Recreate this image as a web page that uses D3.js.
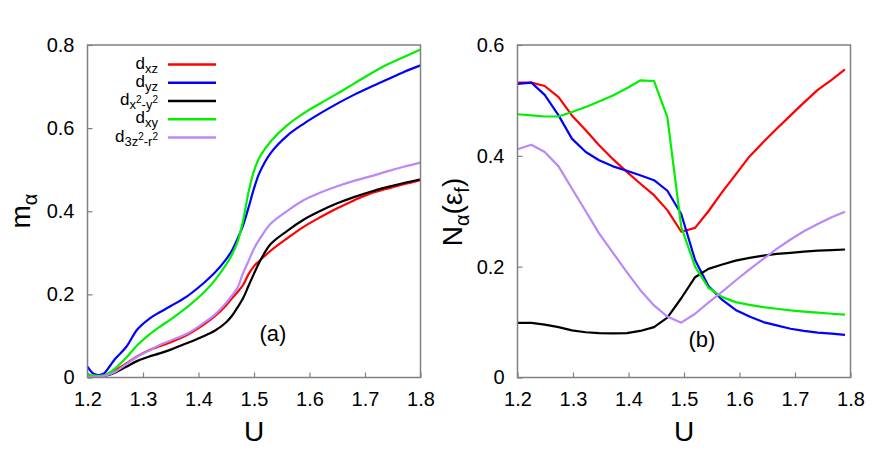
<!DOCTYPE html>
<html><head><meta charset="utf-8">
<script src="https://cdn.jsdelivr.net/npm/d3@7"></script>
<style>body{margin:0;background:#fff}svg{display:block}text{font-family:"Liberation Sans",Arial,sans-serif}</style>
</head><body><svg id="c" width="872" height="467"></svg>
<script>
// ---- Panel (a): m_alpha vs U ----
const uA = [1.2,1.21,1.22,1.23,1.24,1.25,1.27,1.29,1.31,1.33,1.35,1.38,1.41,1.43,1.45,1.46,1.47,1.48,1.49,1.5,1.51,1.53,1.56,1.59,1.62,1.65,1.68,1.71,1.74,1.77,1.8];
const mXZ = [0.005,0.004,0.004,0.005,0.010,0.017,0.034,0.051,0.065,0.075,0.085,0.103,0.128,0.148,0.174,0.190,0.205,0.222,0.248,0.268,0.281,0.305,0.335,0.363,0.386,0.407,0.426,0.443,0.454,0.465,0.475];
const mYZ = [0.026,0.010,0.006,0.010,0.027,0.045,0.074,0.116,0.140,0.157,0.172,0.196,0.228,0.253,0.285,0.305,0.333,0.365,0.408,0.455,0.493,0.540,0.582,0.611,0.636,0.659,0.680,0.699,0.717,0.735,0.751];
const mX2Y2 = [0.003,0.003,0.003,0.004,0.007,0.012,0.026,0.040,0.050,0.058,0.067,0.083,0.100,0.113,0.133,0.148,0.168,0.190,0.220,0.250,0.278,0.321,0.353,0.380,0.401,0.419,0.434,0.447,0.458,0.468,0.477];
const mXY = [0.008,0.005,0.004,0.005,0.012,0.022,0.048,0.078,0.102,0.122,0.140,0.170,0.205,0.235,0.272,0.295,0.325,0.375,0.445,0.497,0.530,0.568,0.607,0.636,0.660,0.683,0.707,0.731,0.753,0.771,0.789];
const m3Z2 = [0.003,0.002,0.002,0.004,0.008,0.014,0.032,0.050,0.064,0.078,0.089,0.106,0.132,0.152,0.180,0.197,0.215,0.250,0.280,0.310,0.333,0.370,0.401,0.427,0.445,0.460,0.473,0.484,0.496,0.507,0.517];

// ---- Panel (b): N_alpha(eps_f) vs U ----
const uB = [1.200,1.225,1.249,1.274,1.298,1.323,1.347,1.372,1.397,1.421,1.446,1.470,1.495,1.520,1.544,1.569,1.593,1.618,1.643,1.667,1.692,1.716,1.741,1.766,1.790];
const nXZ = [0.532,0.532,0.526,0.506,0.473,0.446,0.419,0.394,0.371,0.350,0.329,0.302,0.263,0.270,0.300,0.335,0.366,0.399,0.425,0.449,0.473,0.496,0.519,0.537,0.556];
const nYZ = [0.530,0.532,0.510,0.473,0.431,0.407,0.392,0.381,0.373,0.365,0.356,0.337,0.295,0.212,0.165,0.140,0.122,0.110,0.100,0.094,0.088,0.084,0.081,0.079,0.077];
const nX2Y2 = [0.0985,0.0985,0.0955,0.091,0.085,0.0817,0.080,0.0795,0.080,0.084,0.091,0.108,0.143,0.181,0.196,0.204,0.211,0.216,0.220,0.223,0.225,0.227,0.229,0.230,0.231];
const nXY = [0.475,0.473,0.471,0.471,0.479,0.488,0.498,0.509,0.522,0.536,0.535,0.470,0.272,0.200,0.162,0.145,0.136,0.131,0.127,0.124,0.121,0.119,0.117,0.115,0.1135];
const n3Z2 = [0.412,0.420,0.407,0.381,0.341,0.300,0.260,0.225,0.190,0.158,0.130,0.110,0.099,0.115,0.135,0.155,0.175,0.195,0.214,0.232,0.249,0.264,0.277,0.289,0.299];

const xTicks = [1.2,1.3,1.4,1.5,1.6,1.7,1.8];
const yTicksA = [0,0.2,0.4,0.6,0.8];
const yTicksB = [0,0.2,0.4,0.6];
const colors = ["#ff0000","#0000ff","#000000","#00f000","#bb88f8"];
const legendNames = ["xz","yz","x2-y2","xy","3z2-r2"];

const svg = d3.select("#c");
const frameColor = "#808080";

function panel(x0,x1,y0,y1,ydom,yticks,uArr,series,curve,tag,tagX,tagY){
  const x = d3.scaleLinear([1.2,1.8],[x0,x1]);
  const y = d3.scaleLinear(ydom,[y1,y0]);
  const gx = svg.append("g").attr("transform",`translate(0,${y1})`)
    .call(d3.axisBottom(x).tickValues(xTicks).tickSize(-5).tickPadding(14).tickFormat(d3.format(".1f")));
  const gy = svg.append("g").attr("transform",`translate(${x0},0)`)
    .call(d3.axisLeft(y).tickValues(yticks).tickSize(-5).tickPadding(13).tickFormat(d=>d===0?"0":d3.format(".1f")(d)));
  [gx,gy].forEach(g=>{
    g.select(".domain").remove();
    g.selectAll("line").attr("stroke",frameColor).attr("stroke-width",1.2);
    g.selectAll("text").attr("font-size",20).attr("fill","#000").attr("font-family","Liberation Sans, Arial, sans-serif");
  });
  const line = d3.line().x((d,i)=>x(uArr[i])).y(d=>y(d)).curve(curve);
  series.forEach((s,k)=>{
    svg.append("path").attr("d",line(s)).attr("fill","none")
      .attr("stroke",colors[k]).attr("stroke-width",2.2).attr("stroke-linejoin","round");
  });
  svg.append("rect").attr("x",x0).attr("y",y0).attr("width",x1-x0).attr("height",y1-y0)
    .attr("fill","none").attr("stroke",frameColor).attr("stroke-width",1.5);
  svg.append("text").attr("x",tagX).attr("y",tagY).attr("text-anchor","middle")
    .attr("font-size",22).text(tag);
  svg.append("text").attr("x",(x0+x1)/2).attr("y",441).attr("text-anchor","middle")
    .attr("font-size",28).text("U");
  return {x,y};
}

panel(87.5,420.5,45,377.5,[0,0.8],yTicksA,uA,[mXZ,mYZ,mX2Y2,mXY,m3Z2],d3.curveCatmullRom.alpha(0.5),"(a)",273,341);
panel(517.5,850.5,45,377.5,[0,0.6],yTicksB,uB,[nXZ,nYZ,nX2Y2,nXY,n3Z2],d3.curveLinear,"(b)",702,347);

// y-axis titles
const ta = svg.append("text").attr("transform","translate(30,211) rotate(-90)").attr("text-anchor","middle").attr("font-size",28);
ta.append("tspan").text("m");
ta.append("tspan").attr("font-size",20).attr("dy",7).text("α");
const tb = svg.append("text").attr("transform","translate(462,212) rotate(-90)").attr("text-anchor","middle").attr("font-size",28);
tb.append("tspan").text("N");
tb.append("tspan").attr("font-size",20).attr("dy",7).text("α");
tb.append("tspan").attr("dy",-7).text("(ε");
tb.append("tspan").attr("font-size",20).attr("dy",7).text("f");
tb.append("tspan").attr("dy",-7).text(")");

// legend
const legY = [64.5,82.8,101,119.2,137.5];
legendNames.forEach((s,k)=>{
  svg.append("line").attr("x1",168).attr("x2",216).attr("y1",legY[k]).attr("y2",legY[k])
    .attr("stroke",colors[k]).attr("stroke-width",2.5);
  const t = svg.append("text").attr("x",158).attr("y",legY[k]+4).attr("text-anchor","end").attr("font-size",17);
  t.append("tspan").text("d");
  if(s==="x2-y2" || s==="3z2-r2"){
    const parts = s==="x2-y2" ? ["x","-y"] : ["3z","-r"];
    t.append("tspan").attr("font-size",13).attr("dy",4).text(parts[0]);
    t.append("tspan").attr("font-size",10).attr("dy",-6).text("2");
    t.append("tspan").attr("font-size",13).attr("dy",6).text(parts[1]);
    t.append("tspan").attr("font-size",10).attr("dy",-6).text("2");
  } else {
    t.append("tspan").attr("font-size",13).attr("dy",4).text(s);
  }
});
</script></body></html>
